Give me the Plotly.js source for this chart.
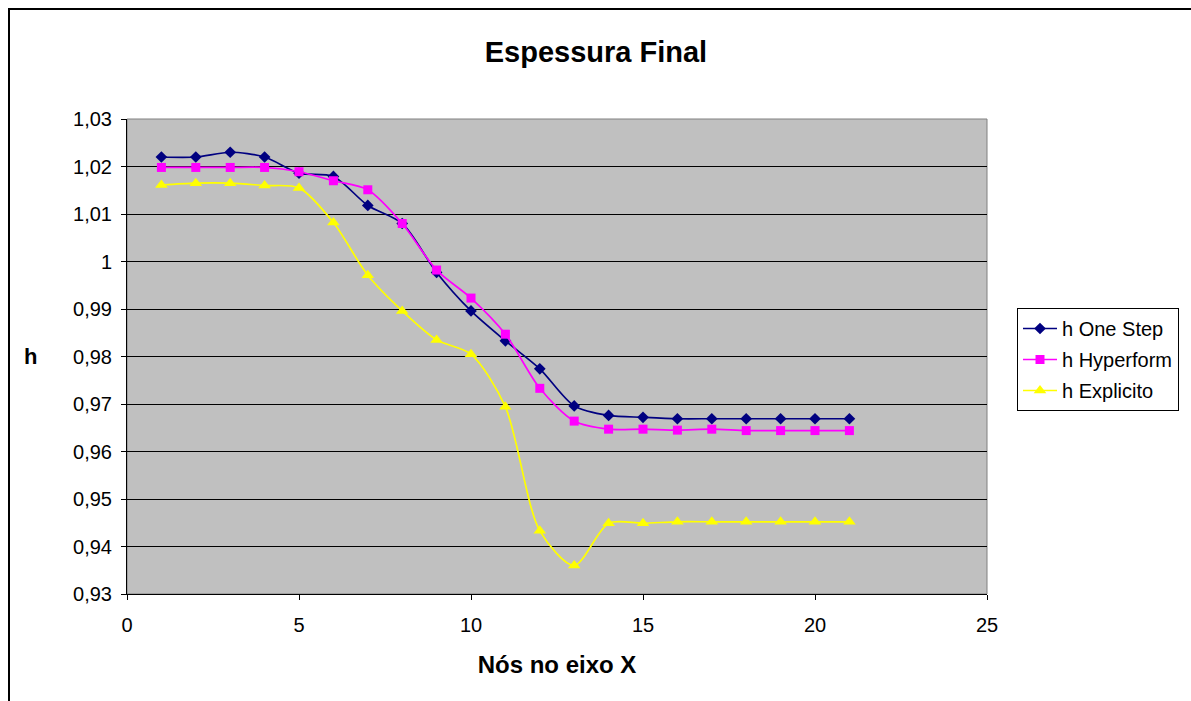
<!DOCTYPE html>
<html>
<head>
<meta charset="utf-8">
<script src="https://cdn.plot.ly/plotly-3.0.1.min.js"></script>
<style>
html,body{margin:0;padding:0;background:#fff;overflow:hidden;}
#chart{width:1191px;height:701px;}
</style>
</head>
<body>
<div id="chart"></div>
<script>
var nodes = [1,2,3,4,5,6,7,8,9,10,11,12,13,14,15,16,17,18,19,20,21];
var hOneStep = [1.0220,1.0220,1.0230,1.0220,1.0186,1.0179,1.0118,1.0080,0.9977,0.9896,0.9833,0.9774,0.9696,0.9676,0.9672,0.9669,0.9669,0.9669,0.9669,0.9669,0.9669];
var hHyperform = [1.0198,1.0198,1.0198,1.0198,1.0189,1.0170,1.0151,1.0080,0.9982,0.9923,0.9847,0.9733,0.9664,0.9647,0.9647,0.9645,0.9647,0.9644,0.9644,0.9644,0.9644];
var hExplicito = [1.0161,1.0165,1.0165,1.0160,1.0155,1.0082,0.9971,0.9896,0.9835,0.9805,0.9694,0.9433,0.9360,0.9449,0.9449,0.9452,0.9452,0.9452,0.9452,0.9452,0.9452];
var yTickVals = [0.93,0.94,0.95,0.96,0.97,0.98,0.99,1.00,1.01,1.02,1.03];
var yTickText = ["0,93","0,94","0,95","0,96","0,97","0,98","0,99","1","1,01","1,02","1,03"];
var xTickVals = [0,5,10,15,20,25];
var seriesNames = ["h One Step","h Hyperform","h Explicito"];

var F = "Arial, 'Liberation Sans', sans-serif";
function tr(y, name, color, symbol, size, grp){
  return {x: nodes, y: y, name: name, type:'scatter', mode:'lines+markers',
    line:{color:color, width:1.7, shape:'spline', smoothing:0.8},
    marker:{color:color, symbol:symbol, size:size},
    legendgroup: grp, cliponaxis:false};
}
var data = [
  tr(hOneStep, seriesNames[0], '#000080', 'diamond', 9, 'a'),
  tr(hHyperform, seriesNames[1], '#FF00FF', 'square', 9, 'b'),
  tr(hExplicito, seriesNames[2], '#FFFF00', 'triangle-up', 11, 'c')
];
var L=127, R=987, T=119, B=594, W=1191, H=701;
var pw=R-L, ph=B-T;
var layout = {
  width:W, height:H,
  margin:{l:L, r:W-R, t:T, b:H-B, pad:0},
  paper_bgcolor:'#ffffff', plot_bgcolor:'#C0C0C0',
  separators:',.',
  font:{family:F, color:'#000', size:20},
  title:{text:'<b>Espessura Final</b>', font:{family:F, size:29, color:'#000'},
    xref:'container', x:0.5004, xanchor:'center', yref:'container', y:1-52/H, yanchor:'middle'},
  xaxis:{range:[0,25], tickvals:xTickVals, showgrid:false, zeroline:false,
    showline:true, linecolor:'#000', linewidth:1, ticks:'outside', ticklen:5, tickcolor:'#000',
    tickfont:{family:F, size:20}, ticklabelstandoff:8,
    title:{text:'<b>Nós no eixo X</b>', font:{family:F, size:24}, standoff:21}},
  yaxis:{range:[0.93,1.03], tickvals:yTickVals, ticktext:yTickText, showgrid:true, gridcolor:'#000', gridwidth:1,
    zeroline:false, showline:true, linecolor:'#000', linewidth:1, ticks:'outside', ticklen:5, tickcolor:'#000',
    tickfont:{family:F, size:20}, ticklabelstandoff:5},
  showlegend:true,
  legend:{x:(1017-L)/pw, xanchor:'left', y:(B-308)/ph, yanchor:'top', bgcolor:'#fff', bordercolor:'#000', borderwidth:1,
    font:{family:F, size:20}, traceorder:'grouped', tracegroupgap:2, itemwidth:34},
  annotations:[{text:'<b>h</b>', xref:'paper', yref:'paper', x:(30-L)/pw, y:(B-356)/ph, xanchor:'center', yanchor:'middle',
    showarrow:false, font:{family:F, size:22}}],
  shapes:[
    {type:'rect', xref:'paper', yref:'paper', x0:0, x1:1, y0:0, y1:1, line:{color:'#808080', width:1}, layer:'below'},
    {type:'rect', xref:'paper', yref:'paper', x0:(9-L)/pw, x1:(1260-L)/pw, y0:(B-800)/ph, y1:(B-9)/ph, line:{color:'#000', width:2}}
  ]
};
Plotly.newPlot('chart', data, layout, {displayModeBar:false, staticPlot:true});
</script>
</body>
</html>
